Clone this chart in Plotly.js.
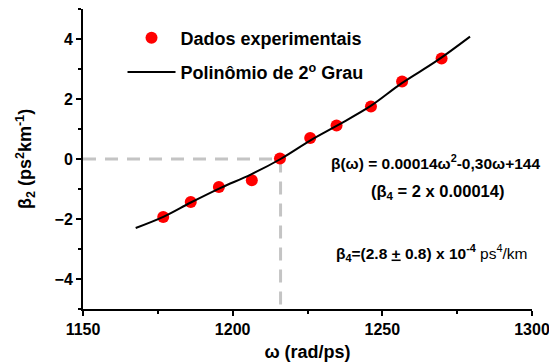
<!DOCTYPE html>
<html>
<head>
<meta charset="utf-8">
<script src="https://cdn.plot.ly/plotly-3.0.1.min.js"></script>
<style>html,body{margin:0;padding:0;background:#fff;}#chart{width:549px;height:362px;}</style>
</head>
<body>
<div id="chart"></div>
<script>
const omegaData = [1176.8, 1186.0, 1195.4, 1206.4, 1215.8, 1225.9, 1234.7, 1246.2, 1256.6, 1269.8];
const beta2Data = [-1.93, -1.43, -0.93, -0.71, 0.02, 0.70, 1.12, 1.75, 2.58, 3.35];

// Fitted 2nd-degree polynomial curve
const omegaFit = [1167.6, 1177, 1186, 1196, 1206, 1216, 1226, 1235, 1246, 1256.4, 1268, 1279.3];
const beta2Fit = [-2.30, -1.92, -1.45, -0.96, -0.52, 0.0, 0.62, 1.12, 1.76, 2.52, 3.26, 4.08];

// Guide point (zero crossing)
const guideOmega = 1216;
const guideBeta = 0;

const xTickVals = [1150, 1200, 1250, 1300];
const yTickVals = [-4, -2, 0, 2, 4];

const FONT = "Arial, 'Liberation Sans', sans-serif";

const traces = [
  {
    x: [1150, guideOmega, guideOmega],
    y: [guideBeta, guideBeta, -5],
    mode: 'lines',
    line: {color: '#c4c4c4', width: 3, dash: '13px,9px'},
    showlegend: false,
    hoverinfo: 'skip'
  },
  {
    x: omegaData, y: beta2Data,
    mode: 'markers',
    name: '<b>Dados experimentais</b>',
    marker: {color: '#ff0000', size: 12},
    legendgroup: 'a'
  },
  {
    x: omegaFit, y: beta2Fit,
    mode: 'lines',
    name: '<b>Polinômio de 2<sup>o</sup> Grau</b>',
    line: {color: '#000000', width: 2, shape: 'spline'},
    legendgroup: 'b'
  }
];

const layout = {
  width: 549, height: 362,
  margin: {l: 83, r: 17, t: 9, b: 52.5},
  paper_bgcolor: '#ffffff', plot_bgcolor: '#ffffff',
  font: {family: FONT, color: '#000'},
  showlegend: true,
  legend: {
    x: 0.088, y: 0.965, xanchor: 'left', yanchor: 'top',
    font: {family: FONT, size: 18, color: '#000'},
    bgcolor: 'rgba(0,0,0,0)',
    traceorder: 'grouped',
    tracegroupgap: 8,
    itemwidth: 48
  },
  xaxis: {
    range: [1150, 1300],
    tickvals: xTickVals,
    ticklabeloverflow: 'allow',
    ticks: 'outside', ticklen: 5, tickwidth: 2, tickcolor: '#000',
    minor: {dtick: 25, tick0: 1150, ticks: 'outside', ticklen: 3, tickwidth: 2, tickcolor: '#000'},
    showline: true, linecolor: '#000', linewidth: 2,
    showgrid: false, zeroline: false,
    tickfont: {family: FONT, size: 16, weight: 'bold', color: '#000'},
    title: {text: '<b>ω (rad/ps)</b>', font: {family: FONT, size: 18, color: '#000'}, standoff: 8}
  },
  yaxis: {
    range: [-5, 5],
    tickvals: yTickVals,
    ticks: 'outside', ticklen: 5, tickwidth: 2, tickcolor: '#000',
    minor: {dtick: 1, tick0: 0, ticks: 'outside', ticklen: 3, tickwidth: 2, tickcolor: '#000'},
    showline: true, linecolor: '#000', linewidth: 2,
    showgrid: false, zeroline: false,
    tickfont: {family: FONT, size: 16, weight: 'bold', color: '#000'},
    title: {text: '<b>β<sub>2</sub> (ps<sup>2</sup>km<sup>-1</sup>)</b>', font: {family: FONT, size: 18, color: '#000'}, standoff: 18}
  },
  annotations: [
    {
      xref: 'paper', yref: 'paper', x: 0.786, y: 0.49, xanchor: 'center', yanchor: 'middle',
      text: '<b>β(ω) = 0.00014ω<sup>2</sup>-0,30ω+144</b>',
      showarrow: false, font: {family: FONT, size: 15.5, color: '#000'}
    },
    {
      xref: 'paper', yref: 'paper', x: 0.789, y: 0.39, xanchor: 'center', yanchor: 'middle',
      text: '<b>(β<sub>4</sub> = 2 x 0.00014)</b>',
      showarrow: false, font: {family: FONT, size: 16.5, color: '#000'}
    },
    {
      xref: 'paper', yref: 'paper', x: 0.776, y: 0.185, xanchor: 'center', yanchor: 'middle',
      text: '<b>β<sub>4</sub>=(2.8 <u>+</u> 0.8) x 10<sup>-4</sup></b> ps<sup>4</sup>/km',
      showarrow: false, font: {family: FONT, size: 15.5, color: '#000'}
    }
  ]
};

Plotly.newPlot('chart', traces, layout, {displayModeBar: false, staticPlot: true});
</script>
</body>
</html>
